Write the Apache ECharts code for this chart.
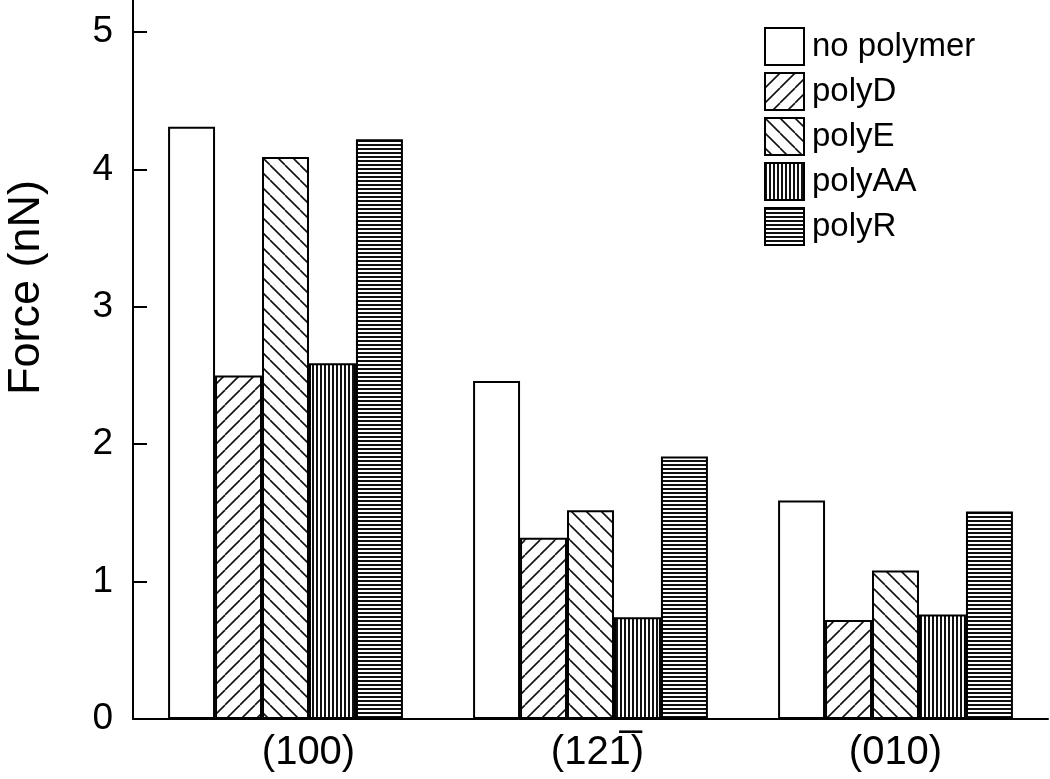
<!DOCTYPE html>
<html>
<head>
<meta charset="utf-8">
<script src="https://cdn.jsdelivr.net/npm/echarts@6/dist/echarts.min.js"></script>
<style>html,body{margin:0;padding:0;background:#fff}#c{width:1050px;height:779px}</style>
</head>
<body>
<div id="c"></div>
<script>
const categories = ['(100)', '(121\u0305)', '(010)'];
const seriesNames = ['no polymer', 'polyD', 'polyE', 'polyAA', 'polyR'];
const noPolymer = [4.31, 2.46, 1.59];
const polyD = [2.50, 1.32, 0.72];
const polyE = [4.09, 1.52, 1.08];
const polyAA = [2.59, 0.74, 0.76];
const polyR = [4.22, 1.91, 1.51];
const yTicks = [0, 1, 2, 3, 4, 5];

const FONT = "'Liberation Sans', Arial, sans-serif";

function makePattern(kind) {
  if (kind === 'none') return '#fff';
  const c = document.createElement('canvas');
  let w = 15, h = 15;
  if (kind === 'v' || kind === 'h') { w = 4; h = 4; }
  c.width = w; c.height = h;
  const g = c.getContext('2d');
  g.fillStyle = '#fff';
  g.fillRect(0, 0, w, h);
  g.strokeStyle = '#111';
  if (kind === 'fwd' || kind === 'back') {
    g.lineWidth = 1.6;
    for (const k of [-w, 0, w]) {
      g.beginPath();
      if (kind === 'fwd') { g.moveTo(k, h); g.lineTo(k + w, 0); }
      else { g.moveTo(k, 0); g.lineTo(k + w, h); }
      g.stroke();
    }
  } else if (kind === 'v') {
    g.fillStyle = '#111';
    g.fillRect(0, 0, 2, h);
  } else if (kind === 'h') {
    g.fillStyle = '#111';
    g.fillRect(0, 0, w, 2);
  }
  return { image: c, repeat: 'repeat' };
}

const kinds = ['none', 'fwd', 'back', 'v', 'h'];
const values = [noPolymer, polyD, polyE, polyAA, polyR];

const chart = echarts.init(document.getElementById('c'), null, { renderer: 'canvas' });
chart.setOption({
  backgroundColor: '#fff',
  animation: false,
  textStyle: { fontFamily: FONT, color: '#000' },
  grid: { left: 133, right: 2, top: 0, bottom: 60, containLabel: false, outerBoundsMode: 'none' },
  legend: {
    orient: 'vertical',
    left: 759,
    top: 22,
    itemWidth: 39,
    itemHeight: 37,
    itemGap: 6,
    icon: 'rect',
    data: seriesNames,
    textStyle: { fontSize: 33, fontFamily: FONT, color: '#000', padding: [0, 0, 0, 3] }
  },
  xAxis: {
    type: 'category',
    data: categories,
    axisLine: { lineStyle: { color: '#000', width: 2 } },
    axisTick: { show: false },
    axisLabel: {
      margin: 14,
      color: '#000',
      fontSize: 40,
      fontFamily: FONT,
      formatter: function (v, i) { return '{o' + i + '|' + v + '}'; },
      rich: {
        o0: { fontSize: 40, fontFamily: FONT, color: '#000', padding: [0, 0, 0, 46] },
        o1: { fontSize: 40, fontFamily: FONT, color: '#000', padding: [0, 0, 0, 14] },
        o2: { fontSize: 40, fontFamily: FONT, color: '#000' }
      }
    },
    splitLine: { show: false }
  },
  yAxis: {
    type: 'value',
    min: 0,
    max: 5.233,
    interval: 1,
    name: 'Force (nN)',
    nameLocation: 'middle',
    nameRotate: 90,
    nameGap: 84,
    nameTextStyle: { fontSize: 45, fontFamily: FONT, color: '#000', padding: [0, 0, 0, 144] },
    axisLine: { show: true, lineStyle: { color: '#000', width: 2 } },
    axisTick: { show: true, inside: true, length: 14, lineStyle: { color: '#000', width: 2 } },
    axisLabel: {
      margin: 20, fontSize: 37, fontFamily: FONT, color: '#000', showMaxLabel: false,
      formatter: function (v) { return yTicks.indexOf(v) >= 0 ? String(v) : ''; }
    },
    splitLine: { show: false }
  },
  series: seriesNames.map((n, i) => ({
    name: n,
    type: 'bar',
    data: values[i],
    barGap: '0%',
    barCategoryGap: '23%',
    itemStyle: { color: makePattern(kinds[i]), borderColor: '#000', borderWidth: 2 }
  }))
});
</script>
</body>
</html>
